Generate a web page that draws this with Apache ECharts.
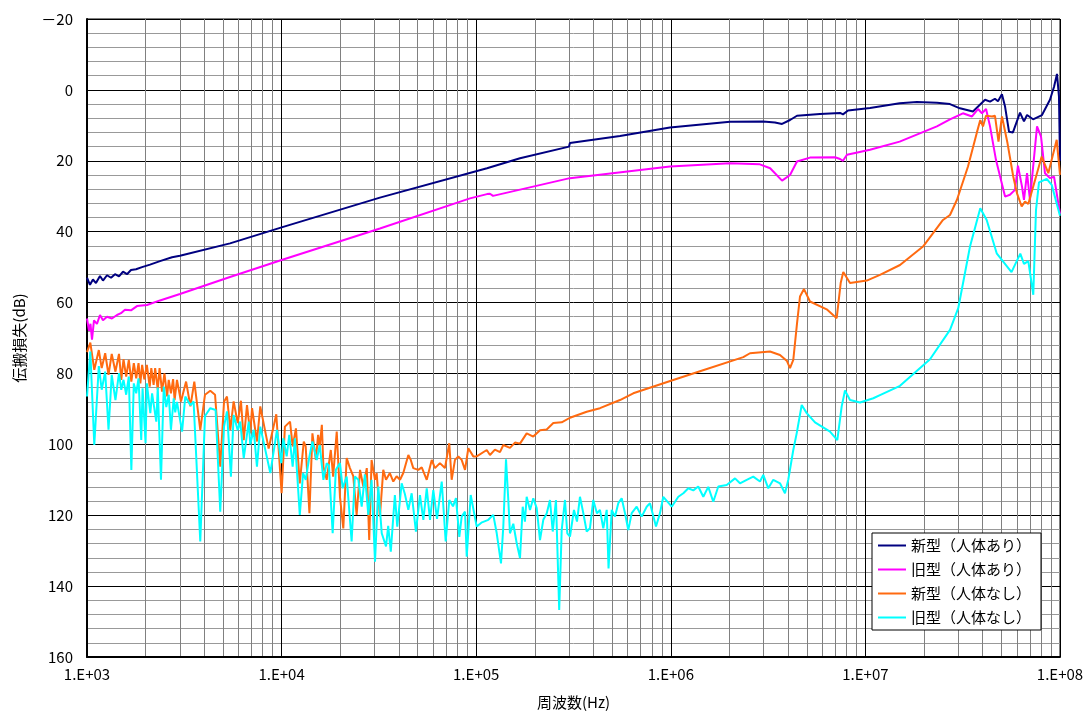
<!DOCTYPE html>
<html><head><meta charset="utf-8">
<script src="https://cdn.jsdelivr.net/npm/echarts@6/dist/echarts.min.js"></script>
<style>html,body{margin:0;padding:0;background:#fff}#chart{width:1089px;height:717px}</style>
</head><body><div id="chart"></div>
<script>
const seriesNames = ['新型（人体あり）', '旧型（人体あり）', '新型（人体なし）', '旧型（人体なし）'];
const seriesColors = ['#000080', '#ff00ff', '#ff6a10', '#00ffff'];
const xTickLabels = ['1.E+03', '1.E+04', '1.E+05', '1.E+06', '1.E+07', '1.E+08'];

// 新型（人体あり）
const freqNewBody = [1000,1036,1073,1112,1166,1208,1267,1329,1393,1460,1531,1605,1683,1786,1917,2108,2372,2735,3003,5430,10000,32000,113600,167900,300000,303000,548000,990000,2.015e6,2.98e6,3.43e6,3.73e6,4.1e6,4.45e6,5.84e6,7.41e6,7.67e6,8.14e6,1.056e7,1.5e7,1.84e7,2.33e7,2.72e7,3.06e7,3.57e7,4.12e7,4.37e7,4.63e7,4.80e7,5.03e7,5.22e7,5.47e7,5.73e7,6.23e7,6.53e7,6.77e7,7.27e7,8.08e7,8.88e7,9.32e7,9.65e7,9.88e7,1e8];
const lossNewBody = [53,55,53.5,54.5,52.5,53.8,52.3,53,52,52.6,51.3,52,50.8,50.6,50,49.3,48.3,47.2,46.8,43.3,38.8,30.4,22.1,19.3,16,15,13,10.6,9.0,8.9,9.2,9.6,8.5,7.3,6.8,6.5,6.9,5.8,5.1,3.8,3.4,3.6,4.0,5.2,6.1,2.8,3.3,2.5,3.2,1.2,4.7,11.8,12.0,6.4,8.9,7.1,8.3,7.1,2.8,-0.9,-4.5,1.9,20];

// 旧型（人体あり）
const freqOldBody = [1000,1024,1042,1061,1086,1125,1166,1208,1267,1343,1426,1495,1567,1683,1806,2034,2372,3003,5430,10000,32000,92900,113600,117700,122000,303000,990000,2.015e6,2.87e6,3.24e6,3.73e6,4.1e6,4.45e6,5.19e6,6.98e6,7.41e6,7.67e6,8.04e6,1.056e7,1.5e7,2.33e7,2.72e7,3.17e7,3.53e7,3.79e7,3.97e7,4.17e7,4.37e7,4.69e7,5.22e7,5.53e7,5.87e7,6.08e7,6.38e7,6.53e7,6.77e7,7.01e7,7.62e7,7.99e7,8.37e7,8.88e7,9.32e7,1e8];
const lossOldBody = [64.5,68,66,70.5,65,66,63.5,65,64,64.5,63.5,63,62,62.2,61,60.7,59.4,57.6,52.8,48,39.1,30.6,29.4,29.3,29.9,24.9,21.6,20.7,21.0,22.1,25.6,24,20.2,19.1,19.0,19.5,20.0,18.3,16.9,14.6,10.3,8.3,6.6,7.5,5.4,6.6,5.4,10.3,19.8,30.1,29.6,28.2,21.4,27.3,31,23.5,31,10.3,13.2,23.5,24.9,24.5,35];

// 新型（人体なし）
const freqNewFree = [1000,1040,1090,1150,1190,1240,1290,1340,1400,1460,1500,1540,1590,1640,1690,1740,1790,1840,1880,1920,1970,2030,2100,2140,2200,2240,2310,2360,2430,2500,2580,2630,2700,2770,2820,2900,3040,3230,3400,3560,3820,4040,4300,4550,4840,5060,5240,5450,5670,5950,6180,6390,6640,6900,7050,7470,7770,8580,9390,10000,10400,11050,11400,11850,12400,13000,13300,13900,14400,15000,15400,15700,16100,16400,17050,17900,18400,19200,19950,20750,21600,22450,23350,24300,25300,26300,27400,28200,29000,30200,30800,32000,33300,34400,36000,37500,39000,40600,42200,44800,46100,47500,50400,52500,55700,59100,61400,65100,69100,72700,74800,77800,80900,84200,87600,91100,96600,100600,113300,117700,124800,132500,137800,149100,158200,167900,181700,196500,212700,230300,249000,275000,303300,369700,432500,548000,641500,1.011e6,1.412e6,2.358e6,2.552e6,3.234e6,3.64e6,3.954e6,4.097e6,4.26e6,4.45e6,4.612e6,4.835e6,5.191e6,6.325e6,7.12e6,7.465e6,7.698e6,8.334e6,1.016e7,1.188e7,1.506e7,1.977e7,2.505e7,2.721e7,2.955e7,3.367e7,3.732e7,3.893e7,4.02e7,4.165e7,4.471e7,4.634e7,4.83e7,5.034e7,5.372e7,5.754e7,6.012e7,6.355e7,6.609e7,6.872e7,8.053e7,8.707e7,9.617e7,1e8];
const lossNewFree = [74,71.3,79,73.4,78.5,74.3,80.4,74.5,79.5,74.5,81.8,76,80.9,76.2,82.3,77.1,81.4,77.1,82.8,77.6,81.7,77.6,83.7,78.5,83.2,78.5,84.6,78.5,85.1,80,86.5,81.8,85.6,81.6,87.5,81.8,87.9,82.3,89.3,82.3,95.9,86,84.9,86,106.3,88,86.5,95.9,87.9,94,87.7,98.8,88.9,96.9,89.8,99.2,89.3,101.2,91.5,113.8,95,93.6,100.6,95.5,111,99.2,100.6,119.4,96.9,104.4,97.3,100.6,94.5,106.3,110,101.6,109.1,96.4,114.8,123.7,103.9,106.7,109,119.9,107.2,111.9,106.7,127,104.4,110,108.1,120.4,107.2,110,108.1,110.5,109,110,108.1,103,104.4,106.7,107.2,106.5,110,104.4,106.7,105.3,106.7,99.7,110,104.4,103.4,104.4,107.2,101.1,103.4,103.4,101.6,103,101.5,102.2,100.2,101,99.5,99.8,96.9,97.8,96,95.8,94,93.8,92.5,90.8,89.8,87.5,85.6,82,79.4,75.4,74.3,73.8,74.8,76.5,78.5,76.2,66,58.3,56.2,59.7,61.9,64.4,54.5,51.4,54.5,53.8,52.2,49.4,44.2,36.7,35.3,31,21.6,12.2,8.5,10.3,7.3,7.5,7.3,14.6,7.5,15,24.5,29.2,32.9,31.5,32.2,18.8,23.5,14.1,24];

// 旧型（人体なし）
const freqOldFree = [1000,1040,1090,1150,1190,1240,1290,1340,1400,1460,1500,1540,1590,1640,1690,1740,1790,1840,1900,1930,2000,2030,2115,2160,2270,2310,2400,2480,2555,2630,2700,2790,2840,2900,3080,3200,3400,3530,3820,4040,4300,4580,4840,5060,5240,5490,5670,5950,6130,6390,6780,6900,7190,7470,7770,8750,9470,9960,10200,10620,10950,11400,11700,12400,12900,13300,13900,14400,15150,15700,16400,17050,17500,18300,19000,19950,20600,21600,22900,23800,24800,25800,26800,27900,29000,30200,31400,32700,34400,35300,36400,38200,39300,41400,43000,44800,46600,49000,51400,53500,55700,57900,60200,62900,66500,69700,72700,76000,78700,81900,84200,87600,89400,93700,100600,107100,115400,122400,127500,134100,137800,142300,146200,149100,155100,161500,167900,173400,178000,181700,189000,196500,204600,212700,221200,230300,239400,247300,257000,267000,275000,285900,293800,303300,318000,329600,341400,355100,369700,384200,399600,417500,432500,449800,468400,478700,497000,516500,537200,559300,581500,604700,629600,668000,708700,751900,781700,839300,879800,915000,956000,1.011e6,1.093e6,1.16e6,1.23e6,1.305e6,1.384e6,1.469e6,1.558e6,1.653e6,1.754e6,1.938e6,2.138e6,2.267e6,2.455e6,2.653e6,2.873e6,2.987e6,3.169e6,3.363e6,3.64e6,3.861e6,4.015e6,4.26e6,4.435e6,4.706e6,4.993e6,5.508e6,6.578e6,7.172e6,7.554e6,7.855e6,8.334e6,9.381e6,1.098e7,1.188e7,1.506e7,2.148e7,2.721e7,3.0e7,3.448e7,3.893e7,4.2e7,4.728e7,5.633e7,6.25e7,6.53e7,6.872e7,7.29e7,7.527e7,7.8e7,8.543e7,9.064e7,1e8];
const lossOldFree = [86.5,73.8,100.2,77.9,84.6,79.5,95.9,80.4,87.5,79.9,84.6,81.8,86,80.9,107.2,82.8,85.6,81.4,98.8,84.2,99.7,82.8,91.2,85.6,93.6,84,110,83.7,89.5,86,95.9,87,91,88,96.4,86.5,89,87.9,127.4,92,89.8,90.3,119,95,90.7,109.1,91.7,96,93.6,103.9,93.6,100,95.9,106.3,95,108.1,95.9,105.3,98.3,103.4,97.3,106.3,98.3,119.9,108.1,110,103.4,99.2,104.4,100.2,110,105.3,106,125.1,107.2,105.3,112.4,109.1,127.4,109.1,110,117.6,108.5,119.9,110,133.1,111.9,125.1,128.8,123,130.3,114.3,123.2,111,114,118.5,113.8,124.6,114.3,121.3,112.4,121.3,112.9,121,110.5,127.4,115.7,117.5,115.2,126.1,120.4,119,131.7,114.3,123.2,122,121.3,119.9,125.1,133.6,123.2,104.2,115.7,125.1,122.4,127.9,132.1,117.6,121.8,114.8,118.5,115.2,118,127,121.3,119.5,115.7,124.6,115.7,146.7,124.2,115.7,125.1,126,118.5,121.8,114.8,119.4,124.6,123.7,115.7,119.5,118.5,123.7,118.5,135,118.5,120.4,116.6,115.2,119.4,124.2,119.4,117.6,120.4,117.6,116.6,123.2,119.4,114.8,116,117.6,114.8,113.8,112.4,113,111.9,114.8,112,116.2,111.9,111.5,109.6,111,110,109.1,110.5,108.6,112.4,110,111,113.8,110,101.6,96.9,88.9,91.2,93.8,96.4,98.8,89.3,84.8,87.5,88.2,87,86.1,83.5,76,67.7,61.6,44.2,33.4,36.7,46.1,51.4,46.2,49.1,48.3,57.8,33.9,26.1,25.1,26.8,35.5];

const FONT = '"Noto Sans CJK JP", "Noto Sans", sans-serif';
const pairs = (f, v) => f.map((x, i) => [x, v[i]]);
const allFreq = [freqNewBody, freqOldBody, freqNewFree, freqOldFree];
const allLoss = [lossNewBody, lossOldBody, lossNewFree, lossOldFree];

const chart = echarts.init(document.getElementById('chart'), null, {renderer: 'canvas'});
chart.setOption({
  animation: false,
  backgroundColor: '#fff',
  textStyle: {fontFamily: FONT},
  grid: {left: 87, right: 29, top: 19, bottom: 60, show: true, borderColor: '#000', borderWidth: 1, backgroundColor: 'transparent'},
  legend: {
    orient: 'vertical', left: 872, top: 533,
    backgroundColor: '#fff', borderColor: '#000', borderWidth: 1,
    padding: [5, 10, 5, 6], itemGap: 9, itemWidth: 28, itemHeight: 2, icon: 'rect',
    textStyle: {fontSize: 15, color: '#000', fontFamily: FONT},
    data: seriesNames
  },
  xAxis: {
    type: 'log', logBase: 10, min: 1000, max: 1e8,
    name: '周波数(Hz)', nameLocation: 'middle', nameGap: 38,
    nameTextStyle: {fontSize: 15, color: '#000', fontFamily: FONT},
    axisLine: {show: true, onZero: false, lineStyle: {color: '#000', width: 2}},
    axisTick: {show: false},
    axisLabel: {fontSize: 15, color: '#000', margin: 10, fontFamily: FONT,
      formatter: v => xTickLabels[Math.round(Math.log10(v)) - 3] || ''},
    splitLine: {show: true, lineStyle: {color: '#000', width: 1}},
    minorTick: {show: false, splitNumber: 9},
    minorSplitLine: {show: true, lineStyle: {color: '#808080', width: 1}}
  },
  yAxis: {
    type: 'value', inverse: true, min: -20, max: 160, interval: 20,
    name: '伝搬損失(dB)', nameLocation: 'middle', nameGap: 60, nameRotate: 90,
    nameTextStyle: {fontSize: 15, color: '#000', fontFamily: FONT},
    axisLine: {show: true, onZero: false, lineStyle: {color: '#000', width: 2}},
    axisTick: {show: false},
    axisLabel: {fontSize: 15, color: '#000', margin: 14, fontFamily: FONT,
      formatter: v => v < 0 ? '－' + (-v) : String(v)},
    splitLine: {show: true, lineStyle: {color: '#000', width: 1}},
    minorTick: {show: false, splitNumber: 5},
    minorSplitLine: {show: true, lineStyle: {color: '#999', width: 1}}
  },
  series: seriesNames.map((name, i) => ({
    name, type: 'line', symbol: 'none', showSymbol: false,
    color: seriesColors[i],
    lineStyle: {color: seriesColors[i], width: 2},
    data: pairs(allFreq[i], allLoss[i])
  }))
});
</script></body></html>
